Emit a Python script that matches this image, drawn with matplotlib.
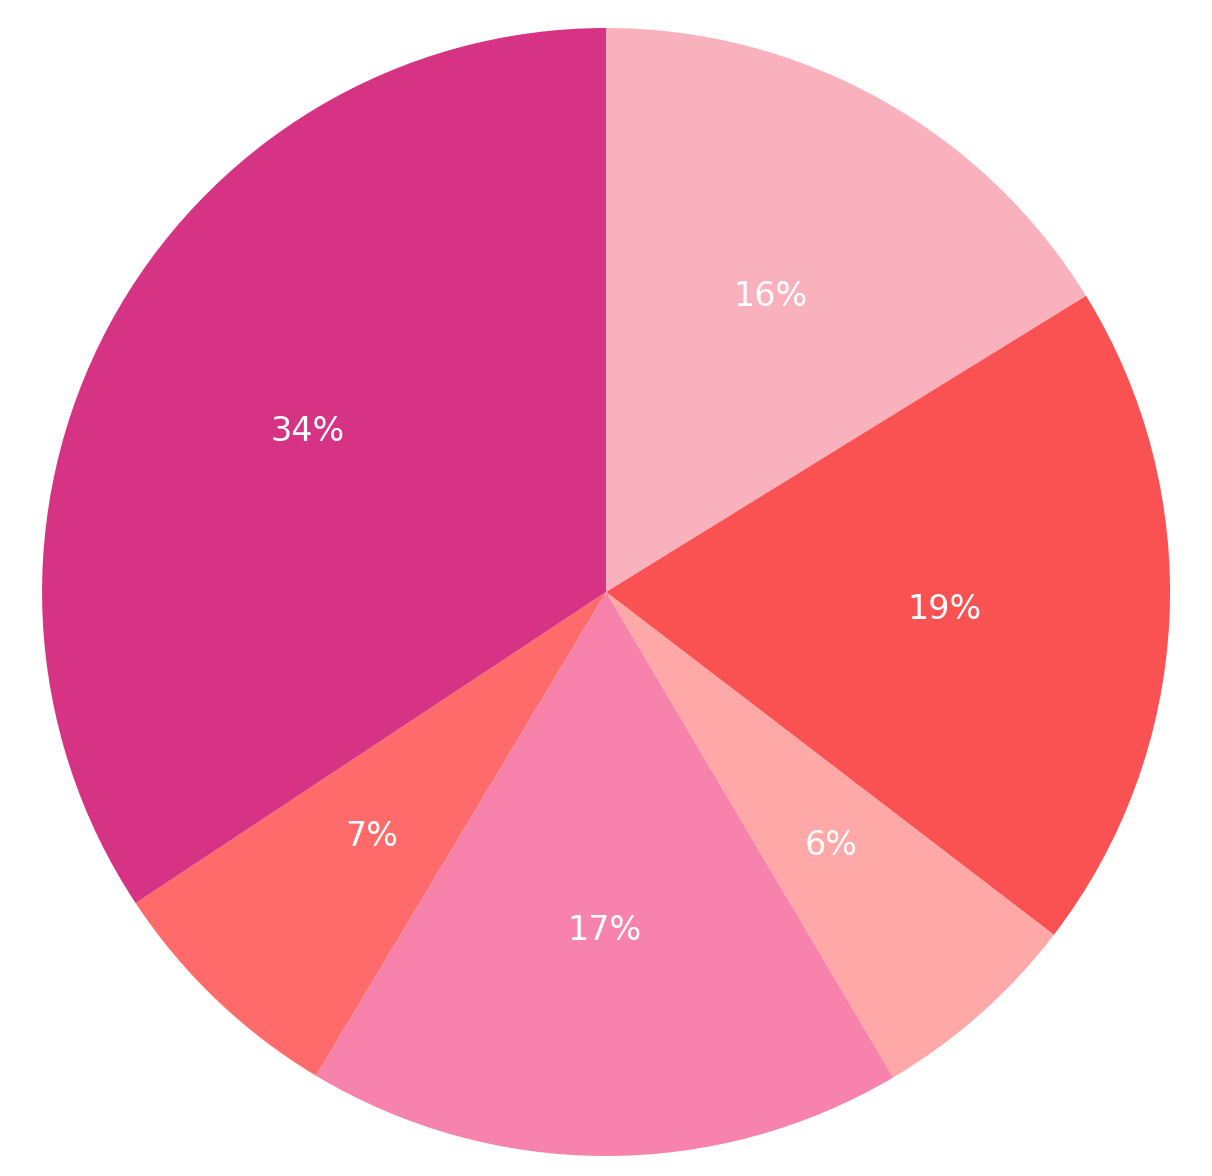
import matplotlib
matplotlib.use("Agg")
import matplotlib.pyplot as plt

values = [16.2, 19.2, 6.1, 17.1, 7.1, 34.3]
colors = ["#F9B1BD", "#FA5252", "#FFA8A8", "#F783AC", "#FF6B6B", "#D63384"]

fig = plt.figure(figsize=(12.12, 11.76), dpi=100)
ax = fig.add_axes([0.0347, 0.0170, 0.9307, 0.9592])
wedges, texts, autotexts = ax.pie(values, colors=colors, startangle=90, counterclock=False,
                                  autopct="%1.0f%%", pctdistance=0.6,
                                  textprops={"color": "white", "fontsize": 24})
ax.set_aspect("equal")
ax.set_xlim(-1, 1)
ax.set_ylim(-1, 1)
fig.savefig("out.png", dpi=100)
